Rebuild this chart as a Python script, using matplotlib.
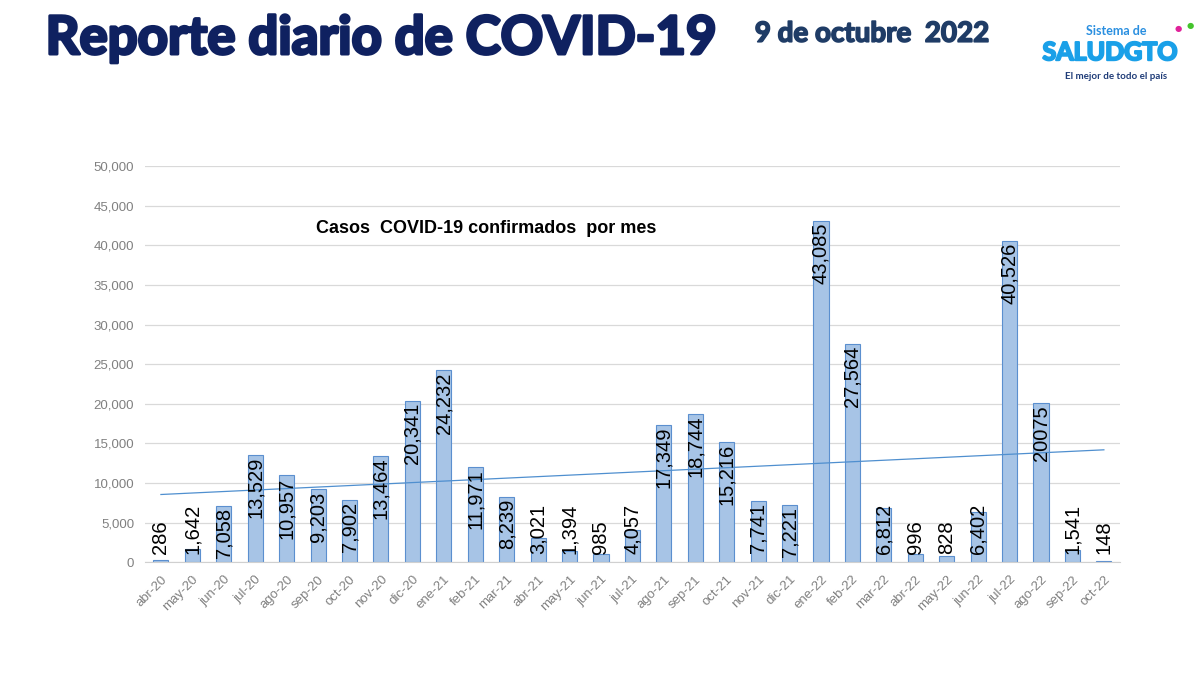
import matplotlib
matplotlib.use("Agg")
import matplotlib.pyplot as plt
import matplotlib.patheffects as pe
import numpy as np

# Datos: casos COVID-19 confirmados por mes
meses = ["abr-20", "may-20", "jun-20", "jul-20", "ago-20", "sep-20", "oct-20", "nov-20",
         "dic-20", "ene-21", "feb-21", "mar-21", "abr-21", "may-21", "jun-21", "jul-21",
         "ago-21", "sep-21", "oct-21", "nov-21", "dic-21", "ene-22", "feb-22", "mar-22",
         "abr-22", "may-22", "jun-22", "jul-22", "ago-22", "sep-22", "oct-22"]
casos = [286, 1642, 7058, 13529, 10957, 9203, 7902, 13464,
         20341, 24232, 11971, 8239, 3021, 1394, 985, 4057,
         17349, 18744, 15216, 7741, 7221, 43085, 27564, 6812,
         996, 828, 6402, 40526, 20075, 1541, 148]
etiquetas = ["286", "1,642", "7,058", "13,529", "10,957", "9,203", "7,902", "13,464",
             "20,341", "24,232", "11,971", "8,239", "3,021", "1,394", "985", "4,057",
             "17,349", "18,744", "15,216", "7,741", "7,221", "43,085", "27,564", "6,812",
             "996", "828", "6,402", "40,526", "20075", "1,541", "148"]
ticks_y = [0, 5000, 10000, 15000, 20000, 25000, 30000, 35000, 40000, 45000, 50000]

AZUL_TITULO = "#0f2160"
GRIS = "#808080"

fig = plt.figure(figsize=(12, 6.75), dpi=100)
ax = fig.add_axes([0.121, 0.167, 0.812, 0.587])

x = np.arange(len(meses))
ax.bar(x, casos, width=0.48, color="#a7c4e6", edgecolor="#5b8fcf", linewidth=0.8, zorder=2)

# Línea de tendencia lineal (como en Excel)
m, b = np.polyfit(x, casos, 1)
ax.plot(x, m * x + b, color="#4f8fcf", linewidth=0.9, zorder=3)

# Etiquetas de datos: extremo interior si cabe, si no sobre la base
ymax = 50000
px_por_unidad = 0.587 * 675 / ymax
for xi, v, t in zip(x, casos, etiquetas):
    largo_px = 11 * sum(c.isdigit() for c in t) + 5 * t.count(",") + 6
    if v * px_por_unidad >= largo_px:
        ax.text(xi, v - 250, t, rotation=90, ha="center", va="top", fontsize=14.5,
                family="Liberation Sans", color="black", zorder=4)
    else:
        ax.text(xi, 1100, t, rotation=90, ha="center", va="bottom", fontsize=14.5,
                family="Liberation Sans", color="black", zorder=4)

ax.set_xlim(-0.5, len(meses) - 0.5)
ax.set_ylim(0, ymax)
ax.set_yticks(ticks_y)
ax.set_yticklabels([f"{t:,}" for t in ticks_y], color=GRIS, fontsize=9.5, family="Liberation Sans")
ax.set_xticks(x)
ax.set_xticklabels(meses, rotation=45, ha="right", rotation_mode="anchor",
                   color=GRIS, fontsize=9.5, family="Liberation Sans")
ax.tick_params(axis="both", length=0, pad=8)
ax.grid(axis="y", color="#d9d9d9", linewidth=0.9, zorder=0)
for lado in ["top", "right", "left"]:
    ax.spines[lado].set_visible(False)
ax.spines["bottom"].set_color("#d0d0d0")

ax.text(0.175, 0.83, "Casos  COVID-19 confirmados  por mes", transform=ax.transAxes,
        fontsize=13, fontweight="bold", family="Liberation Sans", color="black")

# Encabezado
engrosar = [pe.withStroke(linewidth=2.2, foreground=AZUL_TITULO)]
fig.text(0.038, 0.943, "Reporte diario de COVID-19", fontsize=38, fontweight="bold",
         family="Lato", color=AZUL_TITULO, va="center", path_effects=engrosar)
fig.text(0.629, 0.95, "9 de octubre  2022", fontsize=20, fontweight="bold",
         family="Lato", color="#1f3c66", va="center",
         path_effects=[pe.withStroke(linewidth=1.2, foreground="#1f3c66")])

# Logo (como texto)
fig.text(0.93, 0.954, "Sistema de", fontsize=9, fontweight="bold", family="Lato",
         color="#2a8fe0", ha="center", va="center")
fig.text(0.925, 0.922, "SALUDGTO", fontsize=18, fontweight="bold", family="Lato",
         color="#1aa0e8", ha="center", va="center",
         path_effects=[pe.withStroke(linewidth=1.5, foreground="#1aa0e8")])
fig.text(0.982, 0.958, "\u25CF", fontsize=6, color="#e0229a", ha="center", va="center")
fig.text(0.992, 0.962, "\u25CF", fontsize=6, color="#44c42c", ha="center", va="center")
fig.text(0.93, 0.886, "El mejor de todo el país", fontsize=7, fontweight="bold",
         family="Lato", color="#1f3c78", ha="center", va="center")

fig.savefig("out.png", dpi=100)
